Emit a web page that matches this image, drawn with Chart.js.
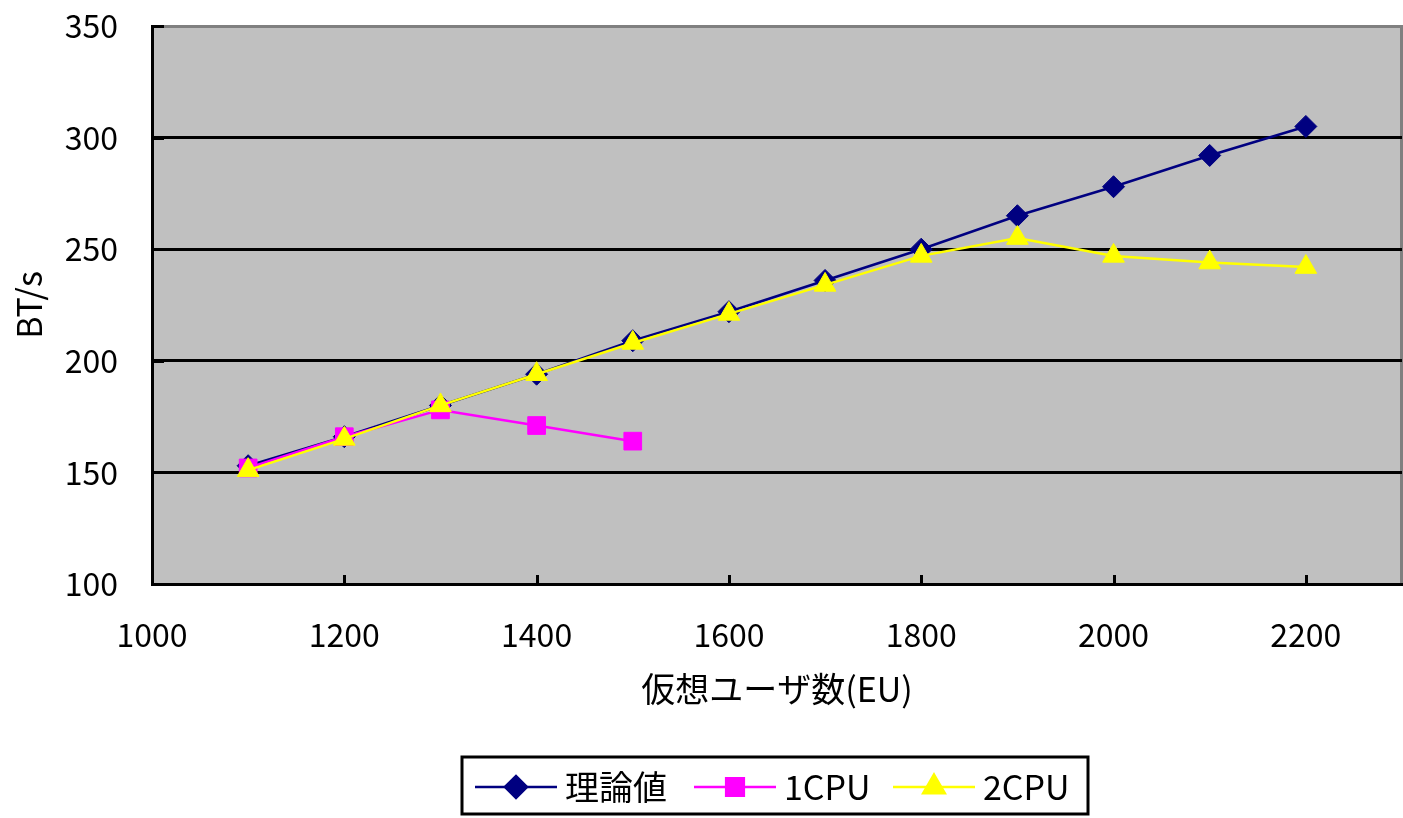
<!DOCTYPE html>
<html>
<head>
<meta charset="utf-8">
<script src="https://cdn.jsdelivr.net/npm/chart.js@4/dist/chart.umd.min.js"></script>
<style>
  html, body { margin: 0; padding: 0; background: #ffffff; overflow: hidden; }
  #wrap { width: 1403px; height: 818px; }
  canvas { display: block; }
</style>
</head>
<body>
<div id="wrap"><canvas id="c" width="1403" height="818"></canvas></div>
<script>
// Virtual users (EU) and measured throughput (BT/s)
const users      = [1100, 1200, 1300, 1400, 1500, 1600, 1700, 1800, 1900, 2000, 2100, 2200];
const theory     = [153, 166, 180, 194, 209, 222, 236, 250, 265, 278, 292, 305];
const cpu1Users  = [1100, 1200, 1300, 1400, 1500];
const cpu1       = [152, 166, 178, 171, 164];
const cpu2       = [151, 165, 180, 194, 208, 221, 234, 247, 255, 247, 244, 242];
const xTicks     = [1000, 1200, 1400, 1600, 1800, 2000, 2200];
const yTicks     = [100, 150, 200, 250, 300, 350];
const seriesNames = ['理論値', '1CPU', '2CPU'];
const xTitle = '仮想ユーザ数(EU)';
const yTitle = 'BT/s';

const FONT = '"Noto Sans CJK JP", "Noto Sans", sans-serif';
const pts = (xs, ys) => ys.map((y, i) => ({ x: xs[i], y }));

// Keep the plot area fixed: no extra room reserved for edge labels
const noScalePadding = s => {
  s.paddingTop = 0; s.paddingBottom = 0; s.paddingLeft = 0; s.paddingRight = 0;
};

// Plot background, grey frame and inward tick marks
const framePlugin = {
  id: 'frame',
  beforeDraw(chart) {
    const { ctx, chartArea: a } = chart;
    ctx.save();
    ctx.fillStyle = '#C0C0C0';
    ctx.fillRect(a.left, a.top, a.right - a.left, a.bottom - a.top);
    ctx.strokeStyle = '#808080';
    ctx.lineWidth = 3;
    ctx.beginPath();
    ctx.moveTo(a.left, a.top + 0.5);
    ctx.lineTo(a.right - 0.5, a.top + 0.5);
    ctx.lineTo(a.right - 0.5, a.bottom);
    ctx.stroke();
    ctx.restore();
  },
  beforeDatasetsDraw(chart) {
    const { ctx, chartArea: a, scales } = chart;
    ctx.save();
    ctx.fillStyle = '#000';
    xTicks.forEach(v => {
      if (v === xTicks[0]) return;
      const px = Math.round(scales.x.getPixelForValue(v));
      ctx.fillRect(px - 1, a.bottom - 9, 3, 9);
    });
    yTicks.forEach(v => {
      if (v === yTicks[0]) return;
      const py = Math.round(scales.y.getPixelForValue(v));
      ctx.fillRect(a.left, py - 1, 12, 3);
    });
    ctx.restore();
  }
};

// Boxed legend below the axis title
const legendPlugin = {
  id: 'boxLegend',
  afterDraw(chart) {
    const { ctx } = chart;
    const box = { x: 462, y: 757, w: 626, h: 57 };
    const cy = 787;
    const itemX = [475, 694, 893];
    ctx.save();
    ctx.fillStyle = '#ffffff';
    ctx.fillRect(box.x, box.y, box.w, box.h);
    ctx.strokeStyle = '#000';
    ctx.lineWidth = 3;
    ctx.strokeRect(box.x, box.y, box.w, box.h);
    [0, 1, 2].forEach(i => {
      const ds = chart.data.datasets[i];
      const x0 = itemX[i];
      ctx.strokeStyle = ds.borderColor;
      ctx.lineWidth = 2.5;
      ctx.beginPath();
      ctx.moveTo(x0, cy);
      ctx.lineTo(x0 + 82, cy);
      ctx.stroke();
      ctx.fillStyle = ds.pointBackgroundColor;
      ctx.strokeStyle = ds.pointBorderColor;
      Chart.helpers.drawPoint(ctx, {
        pointStyle: ds.pointStyle, radius: ds.pointRadius, rotation: 0, borderWidth: 1
      }, x0 + 41, cy);
      ctx.fillStyle = '#000';
      ctx.font = '34px ' + FONT;
      ctx.textAlign = 'left';
      ctx.textBaseline = 'middle';
      ctx.fillText(ds.label, x0 + 90, cy);
    });
    ctx.restore();
  }
};

const mk = (label, data, color, style, radius, order) => ({
  label, data, order,
  borderColor: color, backgroundColor: color,
  borderWidth: 2.5,
  pointStyle: style, pointRadius: radius, pointHoverRadius: radius,
  pointBackgroundColor: color, pointBorderColor: color, pointBorderWidth: 1,
  tension: 0, fill: false
});

new Chart(document.getElementById('c'), {
  type: 'line',
  data: {
    datasets: [
      mk(seriesNames[0], pts(users, theory), '#000080', 'rectRot', 11, 3),
      mk(seriesNames[1], pts(cpu1Users, cpu1), '#FF00FF', 'rect', 12.5, 2),
      mk(seriesNames[2], pts(users, cpu2), '#FFFF00', 'triangle', 12.5, 1)
    ]
  },
  options: {
    responsive: false,
    animation: false,
    devicePixelRatio: 1,
    layout: { autoPadding: false, padding: { left: 0, right: 1, top: 26, bottom: 0 } },
    plugins: { legend: { display: false }, tooltip: { enabled: false } },
    scales: {
      x: {
        type: 'linear', min: 1000, max: 2300,
        afterBuildTicks: s => { s.ticks = xTicks.map(v => ({ value: v })); },
        afterFit: s => { s.height = 234; noScalePadding(s); },
        grid: { display: false, drawTicks: false },
        border: { display: true, color: '#000', width: 3 },
        ticks: {
          color: '#000', padding: 32, maxRotation: 0, autoSkip: false,
          font: { family: FONT, size: 32 },
          callback: v => String(v)
        },
        title: {
          display: true, text: xTitle, color: '#000',
          font: { family: FONT, size: 34 },
          padding: { top: 0, bottom: 109 }
        }
      },
      y: {
        type: 'linear', min: 100, max: 350,
        afterBuildTicks: s => { s.ticks = yTicks.map(v => ({ value: v })); },
        afterFit: s => { s.width = 152; noScalePadding(s); },
        grid: {
          drawTicks: false, lineWidth: 3,
          color: c => (c.tick && (c.tick.value === 100 || c.tick.value === 350)) ? 'rgba(0,0,0,0)' : '#000'
        },
        border: { display: true, color: '#000', width: 3 },
        ticks: {
          color: '#000', padding: 34,
          font: { family: FONT, size: 32 },
          callback: v => String(v)
        },
        title: {
          display: true, text: yTitle, color: '#000',
          font: { family: FONT, size: 34 },
          padding: { top: 9, bottom: 0 }
        }
      }
    }
  },
  plugins: [framePlugin, legendPlugin]
});
</script>
</body>
</html>
